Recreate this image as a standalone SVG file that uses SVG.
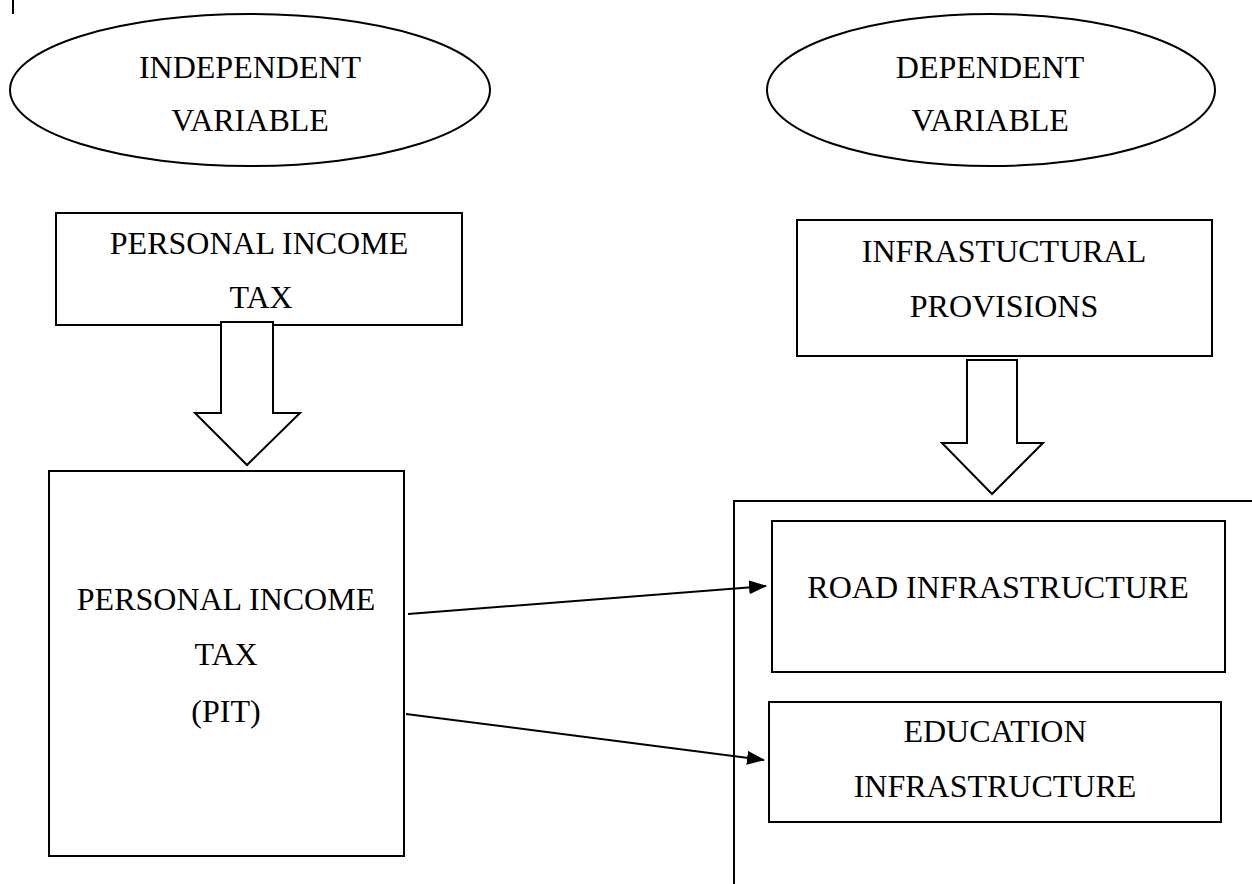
<svg xmlns="http://www.w3.org/2000/svg" width="1252" height="884" viewBox="0 0 1252 884">
<style>
.s{fill:#fff;stroke:#000;stroke-width:2}
.t{font-family:"Liberation Serif","Times New Roman",serif;font-size:32px;fill:#000;text-anchor:middle}
.c{stroke:#000;stroke-width:2;fill:none}
</style>
<defs>
<marker id="ah" markerWidth="18" markerHeight="14" refX="17" refY="7" orient="auto" markerUnits="userSpaceOnUse">
<path d="M0,0 L18,7 L0,14 Z" fill="#000"/>
</marker>
</defs>
<rect width="1252" height="884" fill="#fff"/>
<line x1="13" y1="0" x2="13" y2="14" stroke="#000" stroke-width="2"/>
<g id="independent">
<ellipse class="s" cx="250" cy="90" rx="240" ry="76"/>
<text class="t" x="250" y="78">INDEPENDENT</text>
<text class="t" x="250" y="131">VARIABLE</text>
</g>
<g id="dependent">
<ellipse class="s" cx="991" cy="90" rx="224" ry="76"/>
<text class="t" x="990" y="78">DEPENDENT</text>
<text class="t" x="990" y="131">VARIABLE</text>
</g>
<g id="pit-top">
<rect class="s" x="56" y="213" width="406" height="112"/>
<text class="t" x="259" y="254">PERSONAL INCOME</text>
<text class="t" x="261" y="308">TAX</text>
</g>
<g id="infra-top">
<rect class="s" x="797" y="220" width="415" height="136"/>
<text class="t" x="1004" y="262">INFRASTUCTURAL</text>
<text class="t" x="1004" y="317">PROVISIONS</text>
</g>
<g id="pit">
<rect class="s" x="49" y="471" width="355" height="385"/>
<text class="t" x="226" y="610">PERSONAL INCOME</text>
<text class="t" x="226" y="665">TAX</text>
<text class="t" x="226" y="722">(PIT)</text>
</g>
<g id="container">
<path class="c" d="M734,884 L734,501 L1254,501"/>
</g>
<g id="road">
<rect class="s" x="772" y="521" width="453" height="151"/>
<text class="t" x="998" y="598">ROAD INFRASTRUCTURE</text>
</g>
<g id="education">
<rect class="s" x="769" y="702" width="452" height="120"/>
<text class="t" x="995" y="742">EDUCATION</text>
<text class="t" x="995" y="797">INFRASTRUCTURE</text>
</g>
<g id="connectors">
<path class="s" d="M221,322 L273,322 L273,413 L300,413 L247,465 L195,413 L221,413 Z"/>
<path class="s" d="M967,360 L1017,360 L1017,443 L1043,443 L992,494 L942,443 L967,443 Z"/>
<line class="c" x1="408" y1="614" x2="766" y2="586" marker-end="url(#ah)"/>
<line class="c" x1="406" y1="714" x2="764" y2="760" marker-end="url(#ah)"/>
</g>
</svg>
